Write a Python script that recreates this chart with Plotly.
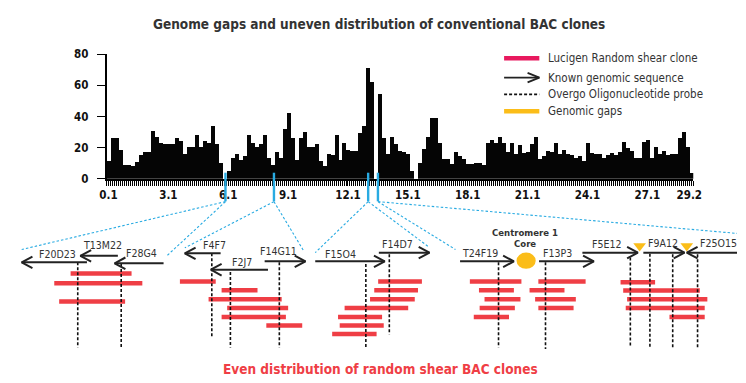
import plotly.graph_objects as go

W, H = 746, 383

# ---------------- histogram data (BAC clones per 0.2 Mb bin, chromosome 1) ----------------
BIN_WIDTH_MB = 0.2
BAC_COUNTS = [
    11, 26, 26, 18.5, 8.5, 8.5, 8, 10.5, 15, 17,
    17, 30.5, 27, 23, 22, 22, 22, 26, 24, 15.5,
    20, 20, 28, 20, 24, 23, 34, 22, 10, 0,
    5, 13, 15.5, 12, 14.5, 28, 23, 20, 22, 28,
    13, 9, 17, 13, 32, 42, 26, 12, 26, 30,
    20, 20, 22, 11, 8, 15.5, 15, 28, 12, 23,
    18.5, 17.5, 17.5, 29, 34, 71, 62, 0, 54, 26,
    15.5, 27, 22, 18, 17, 15.5, 5, 0, 10, 19,
    27, 39, 39, 23, 12.8, 12.4, 9.3, 17, 14.4, 12.4,
    9.3, 9.3, 10.3, 10.3, 8.7, 23, 25, 22.7, 26.8, 23,
    17, 22.7, 15.5, 21.6, 16.5, 17, 22, 26.8, 12.4, 14.4,
    17.5, 17, 22.7, 16, 18.5, 15.5, 15, 13, 14.4, 11.3,
    22.7, 16.5, 15.5, 16, 13.4, 15, 16.5, 15, 17, 23.7,
    19.6, 18, 13.4, 13.4, 23.7, 24.7, 13.4, 20.6, 15.5, 17.5,
    15, 15.5, 15.5, 25.8, 30, 20.6, 3.5,
]
X_TICK_VALUES = [0.1, 3.1, 6.1, 9.1, 12.1, 15.1, 18.1, 21.1, 24.1, 27.1, 29.2]
X_TICK_LABELS = ["0.1", "3.1", "6.1", "9.1", "12.1", "15.1", "18.1", "21.1", "24.1", "27.1", "29.2"]
Y_TICK_VALUES = [0, 20, 40, 60, 80]
GAP_MB = [5.96, 8.39, 13.11, 13.60]

# ---------------- schematic (lower panel) data, in figure pixel units ----------------
ARROW_NAMES = ["F20D23", "T13M22", "F28G4", "F4F7", "F2J7", "F14G11", "F15O4",
               "F14D7", "T24F19", "F13P3", "F5E12", "F9A12", "F25O15"]
ARROW_TAIL = [81.7, 113.3, 160, 218.3, 266.7, 263.3, 315, 380, 463, 543.7, 588, 650.3, 770]
ARROW_HEAD = [15, 75, 110, 181.7, 208.3, 305, 386, 431.7, 518, 599.7, 644.7, 692.3, 694.7]
ARROW_Y = [265, 258.3, 266, 255.7, 272.7, 264, 264, 255, 264, 264, 255, 255, 255]
LABEL_X = [51.7, 97.3, 137.3, 211.7, 240, 277.3, 340.7, 399.3, 483, 563, 612.3, 670.3, 727]
LABEL_Y = [256, 247.5, 255.5, 247.5, 265, 253, 256, 246, 255, 255, 246, 245, 245]

CLONE_X0 = [65, 48.3, 53.3, 176.7, 219.3, 206, 225, 219.3, 265,
            379.3, 375.3, 371, 345, 338.3, 340, 332.3,
            473, 482.3, 488, 483, 477,
            543, 534, 539.7, 543,
            627, 629.7, 633.7, 632.3, 677]
CLONE_X1 = [127.3, 138.3, 120.7, 213.3, 256, 280.7, 287.3, 285, 301.7,
            424, 420, 416.7, 410, 383.3, 385, 377.7,
            525.7, 518, 524.7, 519, 513,
            591.3, 569.7, 581.3, 579,
            662.3, 708, 715.7, 713, 713]
CLONE_Y = [276.7, 286.7, 305.7, 285, 294, 303.3, 312.3, 321.7, 330.7,
           285, 294, 303.3, 312.3, 321.7, 330.7, 339.3,
           285, 294, 303.3, 312.3, 321.7,
           285, 294, 303.3, 312.3,
           285.7, 294.3, 303.3, 312.3, 321.7]

PROBE_X = [72.3, 116.7, 209.3, 228.3, 278.3, 366.7, 390.7, 502.3, 550.3, 637, 657, 680.3, 705.7]
PROBE_Y0 = [265, 266.7, 255.7, 275, 265, 266.7, 256.7, 265, 265, 260, 256, 256.7, 256.7]
PROBE_Y1 = [353.3, 353.3, 343.3, 353.3, 353.3, 355, 340, 353.3, 355, 353.3, 352.7, 353.3, 353.3]

GAP_TRIANGLE_X = [646.5, 694.7]
GAP_TRIANGLE_Y = [248, 248]
CENTROMERE_XY = (530.5, 263.3)

# connectors: (gap index, target x, target y)
CONNECT_GAP = [0, 0, 1, 1, 2, 2, 3, 3]
CONNECT_X = [15, 163.3, 181.7, 303.3, 315, 430, 458.3, 746]
CONNECT_Y = [251.7, 258.3, 250, 253.3, 255, 248.3, 251.7, 235]

LEGEND_LABELS = ["Lucigen Random shear clone", "Known genomic sequence",
                 "Overgo Oligonucleotide probe", "Genomic gaps"]
LEGEND_Y = [53.3, 73.3, 90.7, 108.3]

# ---------------- styles ----------------
FONT = "DejaVu Sans Condensed, Liberation Sans Narrow, Arial Narrow, sans-serif"
TXT = "#333333"
RED = "#ef3e45"
PINK = "#e8195e"
BLUE = "#29abe2"
GOLD = "#fbbd19"
ARROW_COL = "#222222"

# plot area of the histogram in pixels
PX_L, PX_R, PX_T, PX_B = 101.7, 701.3, 49.0, 178.3
X_MAX = BIN_WIDTH_MB * len(BAC_COUNTS)


def mb_to_px(mb):
    return PX_L + mb * (PX_R - PX_L) / X_MAX


fig = go.Figure()

# histogram
centers = [BIN_WIDTH_MB * (i + 0.5) for i in range(len(BAC_COUNTS))]
fig.add_trace(go.Bar(x=centers, y=BAC_COUNTS, width=BIN_WIDTH_MB, marker=dict(color="#050505", line=dict(width=0)),
                     hoverinfo="skip", showlegend=False))

ov = dict(xaxis="x2", yaxis="y2", showlegend=False, hoverinfo="skip")

# blue gap markers
for g in GAP_MB:
    gx = mb_to_px(g)
    fig.add_trace(go.Scatter(x=[gx, gx], y=[172, 201.7], mode="lines",
                             line=dict(color=BLUE, width=2.4), **ov))

# dashed blue connectors
cx, cy = [], []
for gi, tx, ty in zip(CONNECT_GAP, CONNECT_X, CONNECT_Y):
    cx += [mb_to_px(GAP_MB[gi]), tx, None]
    cy += [202, ty, None]
fig.add_trace(go.Scatter(x=cx, y=cy, mode="lines", line=dict(color=BLUE, width=1.1, dash="2.5px,2px"), **ov))

# red clones
rx, ry = [], []
for a, b, y in zip(CLONE_X0, CLONE_X1, CLONE_Y):
    rx += [a, b, None]
    ry += [y, y, None]
fig.add_trace(go.Scatter(x=rx, y=ry, mode="lines", line=dict(color=RED, width=4.5), **ov))

# probes
px_, py_ = [], []
for x, a, b in zip(PROBE_X, PROBE_Y0, PROBE_Y1):
    px_ += [x, x, None]
    py_ += [a, b, None]
fig.add_trace(go.Scatter(x=px_, y=py_, mode="lines", line=dict(color="#111111", width=1.6, dash="3px,2px"), **ov))

# arrows
BACK, HALF = 11, 6
ax_, ay_ = [], []
for t, h, y in zip(ARROW_TAIL, ARROW_HEAD, ARROW_Y):
    d = 1 if h > t else -1
    ax_ += [t, h, None, h - d * BACK, h, h - d * BACK, None]
    ay_ += [y, y, None, y - HALF, y, y + HALF, None]
fig.add_trace(go.Scatter(x=ax_, y=ay_, mode="lines", line=dict(color=ARROW_COL, width=2), **ov))

# gaps (triangles)
fig.add_trace(go.Scatter(x=GAP_TRIANGLE_X, y=GAP_TRIANGLE_Y, mode="markers",
                         marker=dict(symbol="triangle-down", size=11, color=GOLD), **ov))

# legend swatches
LX0, LX1 = 508, 544
fig.add_trace(go.Scatter(x=[LX0, LX1], y=[LEGEND_Y[0]] * 2, mode="lines", line=dict(color=PINK, width=4.5), **ov))
fig.add_trace(go.Scatter(x=[LX0, LX1, None, LX1 - 12, LX1, LX1 - 12],
                         y=[LEGEND_Y[1], LEGEND_Y[1], None, LEGEND_Y[1] - 5, LEGEND_Y[1], LEGEND_Y[1] + 5],
                         mode="lines", line=dict(color=ARROW_COL, width=1.8), **ov))
fig.add_trace(go.Scatter(x=[LX0, LX1], y=[LEGEND_Y[2]] * 2, mode="lines",
                         line=dict(color="#111111", width=1.6, dash="3px,2px"), **ov))
fig.add_trace(go.Scatter(x=[LX0, LX1], y=[LEGEND_Y[3]] * 2, mode="lines", line=dict(color=GOLD, width=4.5), **ov))

annotations = []
for name, x, y in zip(ARROW_NAMES, LABEL_X, LABEL_Y):
    annotations.append(dict(x=x, y=y, xref="x2", yref="y2", text=name, showarrow=False,
                            font=dict(family=FONT, size=10.5, color=TXT), xanchor="center", yanchor="middle"))
for lab, y in zip(LEGEND_LABELS, LEGEND_Y):
    annotations.append(dict(x=551, y=y, xref="x2", yref="y2", text=lab, showarrow=False,
                            font=dict(family=FONT, size=11.5, color=TXT), xanchor="left", yanchor="middle"))
annotations.append(dict(x=CENTROMERE_XY[0] - 1, y=234.5, xref="x2", yref="y2", text="<b>Centromere 1</b>",
                        showarrow=False, font=dict(family=FONT, size=9.5, color=TXT)))
annotations.append(dict(x=CENTROMERE_XY[0] - 1, y=245.5, xref="x2", yref="y2", text="<b>Core</b>",
                        showarrow=False, font=dict(family=FONT, size=9.5, color=TXT)))
annotations.append(dict(x=380.5, y=17.5, xref="x2", yref="y2",
                        text="<b>Genome gaps and uneven distribution of conventional BAC clones</b>",
                        showarrow=False, font=dict(family=FONT, size=13.5, color=TXT)))
annotations.append(dict(x=381.5, y=376, xref="x2", yref="y2",
                        text="<b>Even distribution of random shear BAC clones</b>",
                        showarrow=False, font=dict(family=FONT, size=13.5, color=RED)))

shapes = [dict(type="circle", xref="x2", yref="y2",
               x0=CENTROMERE_XY[0] - 9.8, x1=CENTROMERE_XY[0] + 9.8,
               y0=CENTROMERE_XY[1] - 8.4, y1=CENTROMERE_XY[1] + 8.4,
               fillcolor=GOLD, line=dict(width=0))]

fig.update_layout(
    width=W, height=H, margin=dict(l=0, r=0, t=0, b=0),
    paper_bgcolor="white", plot_bgcolor="rgba(0,0,0,0)",
    bargap=0, showlegend=False,
    annotations=annotations, shapes=shapes,
    xaxis=dict(domain=[PX_L / W, PX_R / W], range=[0, X_MAX], showgrid=False, zeroline=False,
               showline=True, linecolor="black", linewidth=1.5,
               tickmode="array", tickvals=X_TICK_VALUES, ticktext=X_TICK_LABELS,
               ticks="outside", ticklen=5, tickwidth=1, tickcolor="black",
               minor=dict(tickmode="linear", tick0=0, dtick=0.1, ticks="outside", ticklen=5,
                          tickwidth=0.8, tickcolor="black"),
               tickfont=dict(family=FONT, size=11.5, color="#111111", weight="bold"), anchor="y"),
    yaxis=dict(domain=[(H - PX_B) / H, (H - PX_T) / H], range=[0, 80], showgrid=False, zeroline=False,
               showline=True, linecolor="black", linewidth=1.5,
               tickmode="array", tickvals=Y_TICK_VALUES, ticks="outside", ticklen=8, tickwidth=1,
               tickcolor="black", ticklabelstandoff=6,
               tickfont=dict(family=FONT, size=11.5, color="#111111", weight="bold"), anchor="x"),
    xaxis2=dict(domain=[0, 1], range=[0, W], visible=False, anchor="y2", fixedrange=True),
    yaxis2=dict(domain=[0, 1], range=[H, 0], visible=False, anchor="x2", fixedrange=True),
)

fig.write_html("out.html", config={"displayModeBar": False},
               post_script="document.body.style.margin='0';")
